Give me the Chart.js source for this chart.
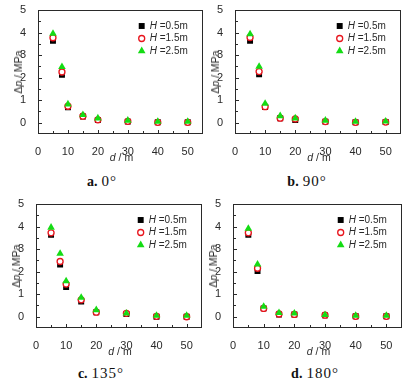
<!DOCTYPE html>
<html>
<head>
<meta charset="utf-8">
<script src="https://cdn.jsdelivr.net/npm/chart.js@4.4.0/dist/chart.umd.min.js"></script>
<style>
body { margin: 0; background: #fff; width: 409px; height: 385px; position: relative; overflow: hidden; }
canvas { position: absolute; }
.cap { position: absolute; width: 120px; text-align: center; font-family: "Liberation Serif", "DejaVu Serif", serif; font-size: 15px; letter-spacing: 1px; color: #111; line-height: 18px; }
.cap b { font-size: 14px; margin-right: 4px; letter-spacing: 0; }
.ttl { position: absolute; white-space: nowrap; font-family: "Liberation Sans", Arial, sans-serif; font-size: 10.5px; color: #2a2a2a; line-height: 12px; }
</style>
</head>
<body>
<div class="cap" style="left:42px;top:172px"><b>a.</b>0&deg;</div>
<div class="cap" style="left:247px;top:172px"><b>b.</b>90&deg;</div>
<div class="cap" style="left:41px;top:364px"><b>c.</b>135&deg;</div>
<div class="cap" style="left:255px;top:364px"><b>d.</b>180&deg;</div>
<script>
// distances d (m) and burial depth labels
const distance = [5, 8, 10, 15, 20, 30, 40, 50];
const depths = ['0.5m', '1.5m', '2.5m'];
const xTicks = [0, 10, 20, 30, 40, 50];
const xMinor = [5, 15, 25, 35, 45];
const yTicks = [0, 1, 2, 3, 4, 5];
const yMinor = [0.5, 1.5, 2.5, 3.5, 4.5];

// a. 0°
const a_H05 = [3.63, 2.13, 0.69, 0.28, 0.12, 0.05, 0.02, 0.02];
const a_H15 = [3.77, 2.25, 0.73, 0.29, 0.13, 0.06, 0.02, 0.02];
const a_H25 = [3.95, 2.48, 0.82, 0.35, 0.20, 0.10, 0.05, 0.05];
// b. 90°
const b_H05 = [3.63, 2.15, 0.70, 0.20, 0.12, 0.05, 0.02, 0.03];
const b_H15 = [3.78, 2.27, 0.71, 0.20, 0.17, 0.05, 0.02, 0.03];
const b_H25 = [3.93, 2.49, 0.85, 0.30, 0.20, 0.10, 0.05, 0.06];
// c. 135°
const c_H05 = [3.63, 2.32, 1.32, 0.67, 0.20, 0.12, 0.00, 0.00];
const c_H15 = [3.72, 2.45, 1.45, 0.75, 0.20, 0.15, 0.02, 0.00];
const c_H25 = [3.96, 2.80, 1.58, 0.85, 0.30, 0.15, 0.05, 0.05];
// d. 180°
const d_H05 = [3.63, 2.03, 0.37, 0.10, 0.10, 0.06, 0.02, 0.02];
const d_H15 = [3.72, 2.15, 0.37, 0.12, 0.10, 0.07, 0.02, 0.02];
const d_H25 = [3.91, 2.32, 0.45, 0.17, 0.15, 0.08, 0.05, 0.05];

const sans = '"Liberation Sans", Arial, sans-serif';
const ink = '#2a2a2a';

const marks = [
    { pointStyle: 'rect', pointRadius: 4.2, backgroundColor: '#000', borderColor: '#000', borderWidth: 0, order: 3 },
    { pointStyle: 'circle', pointRadius: 3, backgroundColor: '#fff', borderColor: '#e8141c', borderWidth: 1.3, order: 2 },
    { pointStyle: 'triangle', pointRadius: 4.4, backgroundColor: '#14dc14', borderColor: '#14dc14', borderWidth: 0, order: 1 }
];

function mixed(ctx, parts, x, y) {
    let q = x;
    parts.forEach(p => { ctx.font = p[1]; ctx.fillText(p[0], q, y); q += ctx.measureText(p[0]).width; });
}

// frame and inward ticks drawn as 1px filled rects, plus the legend
const decor = {
    id: 'decor',
    afterDraw(chart) {
        const { ctx, chartArea: a } = chart;
        const x = chart.scales.x, y = chart.scales.y;
        const L = Math.round(a.left), R = Math.round(a.right), T = Math.round(a.top), B = Math.round(a.bottom);
        ctx.save();
        ctx.fillStyle = ink;
        ctx.fillRect(L, T, R - L, 1);
        ctx.fillRect(L, B - 1, R - L, 1);
        ctx.fillRect(L, T, 1, B - T);
        ctx.fillRect(R - 1, T, 1, B - T);
        xTicks.forEach(v => ctx.fillRect(Math.round(x.getPixelForValue(v)), B - 4, 1, 3));
        xMinor.forEach(v => ctx.fillRect(Math.round(x.getPixelForValue(v)), B - 3, 1, 2));
        yTicks.forEach(v => ctx.fillRect(L + 1, Math.round(y.getPixelForValue(v)), 3, 1));
        yMinor.forEach(v => ctx.fillRect(L + 1, Math.round(y.getPixelForValue(v)), 2, 1));

        // legend
        ctx.textAlign = 'left';
        ctx.textBaseline = 'middle';
        const lx = a.right - 61;
        depths.forEach((lab, i) => {
            const ly = a.top + 16 + i * 12.5;
            const m = marks[i];
            ctx.save();
            ctx.fillStyle = m.backgroundColor;
            ctx.strokeStyle = m.borderColor;
            ctx.lineWidth = m.borderWidth || 1.3;
            Chart.helpers.drawPoint(ctx, { pointStyle: m.pointStyle, radius: m.pointRadius, rotation: 0, borderWidth: m.borderWidth }, lx, ly);
            ctx.restore();
            ctx.fillStyle = ink;
            mixed(ctx, [['H', 'italic 10px ' + sans], [' =' + lab, '10px ' + sans]], lx + 8, ly);
        });
        ctx.restore();
    }
};

function title(html, cx, cy, rot) {
    const t = document.createElement('div');
    t.className = 'ttl';
    t.innerHTML = html;
    t.style.left = cx + 'px';
    t.style.top = cy + 'px';
    t.style.transform = 'translate(-50%, -50%)' + (rot ? ' rotate(-90deg)' : '');
    document.body.appendChild(t);
}

function panel(box, s05, s15, s25) {
    const c = document.createElement('canvas');
    const W = box.r - box.l + 38 + 3, H = box.b - box.t + 10 + 36;
    c.width = W; c.height = H;
    c.style.left = (box.l - 38) + 'px';
    c.style.top = (box.t - 10) + 'px';
    c.style.width = W + 'px';
    c.style.height = H + 'px';
    document.body.appendChild(c);
    title('<i>d</i> / m', (box.l + box.r) / 2, box.b + 23, false);
    title('&Delta;<i>p</i> / MPa', box.l - 20, (box.t + box.b) / 2, true);
    const series = [s05, s15, s25];
    new Chart(c, {
        type: 'scatter',
        data: {
            datasets: series.map((s, i) => Object.assign({
                label: 'H =' + depths[i],
                data: distance.map((d, j) => ({ x: d, y: s[j] }))
            }, marks[i]))
        },
        options: {
            responsive: false,
            animation: false,
            devicePixelRatio: 1,
            layout: { padding: { top: 10, right: 0.7, left: 0, bottom: 0 } },
            plugins: { legend: { display: false }, tooltip: { enabled: false } },
            scales: {
                x: {
                    type: 'linear', min: 0, max: 55,
                    grid: { display: false }, border: { display: false },
                    afterBuildTicks: s => { s.ticks = xTicks.map(v => ({ value: v })); },
                    afterFit: s => { s.height = 36; },
                    ticks: { autoSkip: false, maxRotation: 0, padding: 3, color: ink, font: { family: sans, size: 11 } }
                },
                y: {
                    type: 'linear', min: -0.5, max: 5,
                    grid: { display: false }, border: { display: false },
                    afterBuildTicks: s => { s.ticks = yTicks.map(v => ({ value: v })); },
                    afterFit: s => { s.width = 38; s.paddingTop = 0; s.paddingBottom = 0; },
                    ticks: { autoSkip: false, padding: 4, color: ink, font: { family: sans, size: 11 } }
                }
            }
        },
        plugins: [decor]
    });
}

panel({ l: 38, r: 205, t: 10, b: 134 }, a_H05, a_H15, a_H25);
panel({ l: 235, r: 403, t: 10, b: 134 }, b_H05, b_H15, b_H25);
panel({ l: 36, r: 204, t: 204, b: 328 }, c_H05, c_H15, c_H25);
panel({ l: 233, r: 404, t: 204, b: 328 }, d_H05, d_H15, d_H25);
</script>
</body>
</html>
